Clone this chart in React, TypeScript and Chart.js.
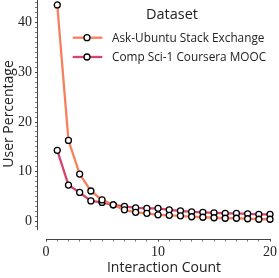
import React, { useEffect, useRef } from "react";
import { Chart, registerables } from "chart.js";

Chart.register(...registerables);

const interactionCounts = [1, 2, 3, 4, 5, 6, 7, 8, 9, 10, 11, 12, 13, 14, 15, 16, 17, 18, 19, 20];
const askUbuntu = [43.6, 16.3, 9.5, 6.1, 4.3, 3.3, 2.3, 1.8, 1.6, 1.3, 1.2, 1.1, 0.9, 0.8, 0.7, 0.6, 0.6, 0.5, 0.4, 0.4];
const compSci = [14.3, 7.3, 5.8, 4.1, 3.8, 3.3, 3.0, 2.7, 2.6, 2.6, 2.3, 2.1, 1.9, 1.8, 1.7, 1.6, 1.6, 1.5, 1.4, 1.4];
const seriesNames = ["Ask-Ubuntu Stack Exchange", "Comp Sci-1 Coursera MOOC"];
const seriesColors = ["#f7805c", "#d6446d"];
const xTickLabels = [0, 10, 20];
const yTickLabels = [0, 10, 20, 30, 40];
const legendTitle = "Dataset";
const xTitle = "Interaction Count";
const yTitle = "User Percentage";

const SANS = "'Open Sans', 'DejaVu Sans', sans-serif";
const SERIF = "'Liberation Serif', 'DejaVu Serif', serif";

const range = (a: number, b: number) => {
  const out: number[] = [];
  for (let i = a; i <= b; i++) out.push(i);
  return out;
};

const axisLinePlugin = {
  id: "axisLines",
  afterDraw(chart: any) {
    const { ctx, chartArea, scales } = chart;
    const xs = scales.x;
    const ys = scales.y;
    ctx.save();
    ctx.strokeStyle = "#444";
    ctx.lineWidth = 1;
    ctx.beginPath();
    const yb = Math.round(chartArea.bottom) + 0.5;
    ctx.moveTo(xs.getPixelForValue(0), yb);
    ctx.lineTo(xs.getPixelForValue(20), yb);
    const xl = Math.round(chartArea.left) - 0.5;
    ctx.moveTo(xl, chartArea.top);
    ctx.lineTo(xl, ys.getPixelForValue(-1.8));
    ctx.stroke();

    // axis titles
    ctx.fillStyle = "#222";
    ctx.font = `14px ${SANS}`;
    ctx.textAlign = "center";
    ctx.textBaseline = "middle";
    ctx.fillText(xTitle, 164, 268);
    ctx.save();
    ctx.translate(9, 114);
    ctx.rotate(-Math.PI / 2);
    ctx.fillText(yTitle, 0, 0);
    ctx.restore();
    ctx.restore();
  },
};

const legendPlugin = {
  id: "customLegend",
  afterDraw(chart: any) {
    const { ctx } = chart;
    ctx.save();
    ctx.fillStyle = "#222";
    ctx.textAlign = "center";
    ctx.textBaseline = "middle";
    ctx.font = `14.5px ${SANS}`;
    ctx.fillText(legendTitle, 172, 15);
    chart.data.datasets.forEach((ds: any, i: number) => {
      const y = 37.7 + i * 19.3;
      ctx.strokeStyle = ds.borderColor;
      ctx.lineWidth = 2.3;
      ctx.beginPath();
      ctx.moveTo(72.7, y);
      ctx.lineTo(102.3, y);
      ctx.stroke();
      ctx.beginPath();
      ctx.arc(87, y, 3, 0, Math.PI * 2);
      ctx.fillStyle = "#fff";
      ctx.fill();
      ctx.strokeStyle = "#000";
      ctx.lineWidth = 1.3;
      ctx.stroke();
      ctx.fillStyle = "#222";
      ctx.textAlign = "left";
      ctx.font = `11.8px ${SANS}`;
      ctx.fillText(ds.label, 112, y + 0.5);
    });
    ctx.restore();
  },
};

export default function App() {
  const canvasRef = useRef<HTMLCanvasElement | null>(null);

  useEffect(() => {
    document.body.style.margin = "0";
    const canvas = canvasRef.current;
    if (!canvas) return;
    const series = [askUbuntu, compSci];
    const chart = new Chart(canvas, {
      type: "line",
      data: {
        datasets: series.map((vals, i) => ({
          label: seriesNames[i],
          data: vals.map((v, j) => ({ x: interactionCounts[j], y: v })),
          borderColor: seriesColors[i],
          backgroundColor: seriesColors[i],
          borderWidth: 2.3,
          pointRadius: 3,
          pointBorderWidth: 1.3,
          pointBorderColor: "#000",
          pointBackgroundColor: "#fff",
          tension: 0,
          clip: false as any,
        })),
      },
      options: {
        animation: false,
        responsive: false,
        devicePixelRatio: 1,
        layout: { autoPadding: false, padding: { top: 0, right: 4.5, left: 0, bottom: 0 } },
        plugins: {
          legend: { display: false },
          tooltip: { enabled: false },
        },
        scales: {
          x: {
            type: "linear",
            min: -0.72,
            max: 20.4,
            border: { display: false },
            grid: {
              drawOnChartArea: false,
              drawTicks: true,
              tickLength: 3,
              tickColor: "#444",
              tickWidth: (c: any) => (xTickLabels.includes(c.tick?.value) ? 1 : 0.7),
            },
            ticks: {
              autoSkip: false,
              maxRotation: 0,
              padding: 2,
              color: "#222",
              font: { family: SERIF, size: 14 },
              callback: (v: any) => (xTickLabels.includes(v) ? String(v) : ""),
            },
            afterBuildTicks: (scale: any) => {
              scale.ticks = range(0, 20).map((v) => ({ value: v }));
            },
            afterFit: (scale: any) => {
              scale.height = 39.4;
              scale.paddingLeft = 0;
              scale.paddingRight = 0;
            },
            title: { display: false },
          },
          y: {
            type: "linear",
            min: -3.5,
            max: 44.6,
            border: { display: false },
            grid: {
              drawOnChartArea: false,
              drawTicks: true,
              tickLength: 3,
              tickColor: "#444",
              tickWidth: (c: any) => (yTickLabels.includes(c.tick?.value) ? 1 : 0.7),
            },
            ticks: {
              autoSkip: false,
              padding: 3,
              color: "#222",
              font: { family: SERIF, size: 14 },
              callback: (v: any) => (yTickLabels.includes(v) ? String(v) : ""),
            },
            afterBuildTicks: (scale: any) => {
              scale.ticks = range(-1, 44).map((v) => ({ value: v }));
            },
            afterFit: (scale: any) => {
              scale.width = 38;
              scale.paddingTop = 0;
              scale.paddingBottom = 0;
            },
            title: { display: false },
          },
        },
      } as any,
      plugins: [axisLinePlugin, legendPlugin],
    });
    return () => chart.destroy();
  }, []);

  return (
    <div style={{ position: "fixed", left: 0, top: 0, width: 279, height: 278, background: "#fff" }}>
      <canvas ref={canvasRef} width={279} height={278} style={{ display: "block", width: 279, height: 278 }} />
    </div>
  );
}
